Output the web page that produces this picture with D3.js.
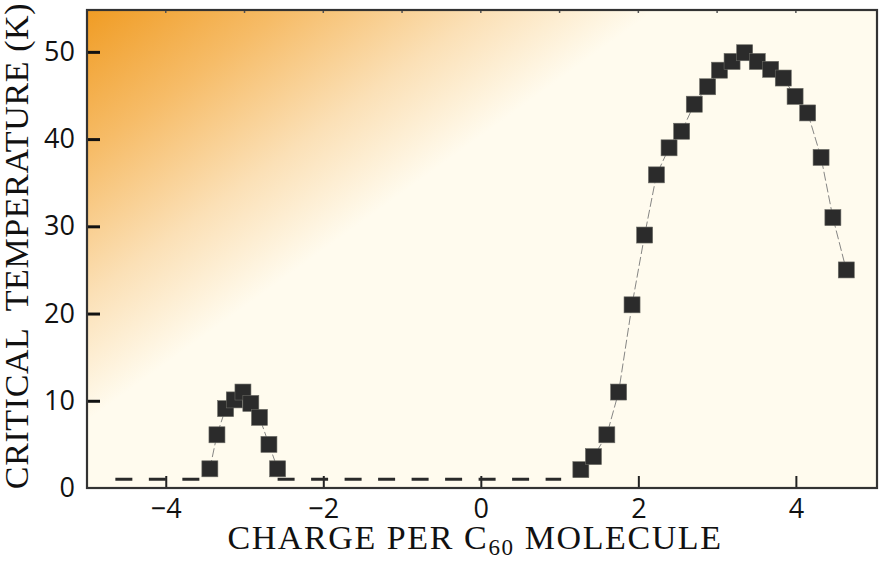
<!DOCTYPE html>
<html>
<head>
<meta charset="utf-8">
<script src="https://cdn.jsdelivr.net/npm/d3@7"></script>
<style>
  body { margin: 0; background: #ffffff; }
  svg { display: block; }
</style>
</head>
<body>
<script>
// charge per C60 molecule vs critical temperature (K)
var holeCharge = [-3.44, -3.35, -3.24, -3.13, -3.02, -2.92, -2.81, -2.69, -2.58];
var holeTc     = [2.2, 6.1, 9.1, 10.1, 11.0, 9.7, 8.1, 5.0, 2.2];

var electronCharge = [1.27, 1.43, 1.60, 1.75, 1.92, 2.08, 2.23, 2.39, 2.55, 2.71, 2.88,
                      3.03, 3.19, 3.35, 3.51, 3.68, 3.84, 3.99, 4.15, 4.32, 4.47, 4.64];
var electronTc     = [2.1, 3.6, 6.1, 11.0, 21.0, 29.0, 35.9, 39.0, 40.9, 44.0, 46.0,
                      47.9, 48.9, 49.9, 48.9, 48.0, 47.0, 44.9, 43.0, 37.9, 31.0, 25.0];

// no superconductivity found down to ~1 K
var baselineLeft  = [[-4.64, 1], [-3.50, 1]];
var baselineRight = [[-2.58, 1], [1.02, 1]];

var xTicks = [-4, -2, 0, 2, 4];
var xMinor = [-4, -3, -2, -1, 0, 1, 2, 3, 4];
var yTicks = [0, 10, 20, 30, 40, 50];

var width = 886;
var height = 573;

var svg = d3.select("body")
  .append("svg")
  .attr("width", width)
  .attr("height", height);

var x = d3.scaleLinear().domain([-5, 5.03]).range([87, 877]);
var y = d3.scaleLinear().domain([0, 54.8]).range([488, 10]);

// background wash, orange in the top-left corner
var defs = svg.append("defs");
var grad = defs.append("linearGradient")
  .attr("id", "wash")
  .attr("gradientUnits", "userSpaceOnUse")
  .attr("x1", x(-5)).attr("y1", y(54.8))
  .attr("x2", x(-5) + 195).attr("y2", y(54.8) + 270);
grad.append("stop").attr("offset", 0).attr("stop-color", "#f09c24");
grad.append("stop").attr("offset", 0.35).attr("stop-color", "#f6bc68");
grad.append("stop").attr("offset", 0.7).attr("stop-color", "#fbe0b6");
grad.append("stop").attr("offset", 1).attr("stop-color", "#fffbee");

svg.append("rect")
  .attr("x", x(-5)).attr("y", y(54.8))
  .attr("width", x(5.03) - x(-5))
  .attr("height", y(0) - y(54.8))
  .attr("fill", "url(#wash)");

// top minor ticks
svg.selectAll(".minor")
  .data(xMinor)
  .enter()
  .append("line")
  .attr("x1", d => x(d)).attr("x2", d => x(d))
  .attr("y1", y(54.8)).attr("y2", y(54.8) + 3)
  .attr("stroke", "#555")
  .attr("stroke-width", 1.5);

// axes, ticks pointing inward
var yAxis = svg.append("g")
  .attr("transform", "translate(" + x(-5) + ",0)")
  .call(d3.axisLeft(y).tickValues(yTicks).tickSize(-13).tickPadding(12).tickFormat(d3.format("d")));
yAxis.select(".domain").remove();
yAxis.selectAll(".tick line").attr("stroke", "#111").attr("stroke-width", 3);
yAxis.selectAll(".tick").filter(d => d === 0).select("line").remove();
yAxis.selectAll("text")
  .attr("font-family", "'Open Sans', 'Noto Sans', sans-serif")
  .attr("font-size", 27)
  .attr("fill", "#111");

var xAxis = svg.append("g")
  .attr("transform", "translate(0," + y(0) + ")")
  .call(d3.axisBottom(x).tickValues(xTicks).tickSize(-12).tickPadding(11)
    .tickFormat(d => d < 0 ? "\u2212" + Math.abs(d) : d));
xAxis.select(".domain").remove();
xAxis.selectAll(".tick line").attr("stroke", "#222").attr("stroke-width", 2);
xAxis.selectAll("text")
  .attr("font-family", "'Open Sans', 'Noto Sans', sans-serif")
  .attr("font-size", 27)
  .attr("fill", "#111");

// frame
svg.append("rect")
  .attr("x", x(-5)).attr("y", y(54.8))
  .attr("width", x(5.03) - x(-5))
  .attr("height", y(0) - y(54.8))
  .attr("fill", "none")
  .attr("stroke", "#333")
  .attr("stroke-width", 2.2);

var line = d3.line().x(d => x(d[0])).y(d => y(d[1]));

// dashed baseline at 1 K
svg.selectAll(".base")
  .data([baselineLeft, baselineRight])
  .enter()
  .append("path")
  .attr("d", line)
  .attr("fill", "none")
  .attr("stroke", "#2a2a2a")
  .attr("stroke-width", 3)
  .attr("stroke-dasharray", "17,16.5");

var holePts = holeCharge.map((c, i) => [c, holeTc[i]]);
var electronPts = electronCharge.map((c, i) => [c, electronTc[i]]);

// thin connecting lines
svg.selectAll(".conn")
  .data([holePts, electronPts])
  .enter()
  .append("path")
  .attr("d", line)
  .attr("fill", "none")
  .attr("stroke", "#777")
  .attr("stroke-width", 0.9)
  .attr("stroke-dasharray", "9,3");

// square markers
var s = 16;
svg.selectAll(".pt")
  .data(holePts.concat(electronPts))
  .enter()
  .append("rect")
  .attr("x", d => x(d[0]) - s / 2)
  .attr("y", d => y(d[1]) - s / 2)
  .attr("width", s)
  .attr("height", s)
  .attr("fill", "#2b2b2b")
  .attr("stroke", "#6a6a64")
  .attr("stroke-width", 0.6);

// axis titles
var xTitle = svg.append("text")
  .attr("x", 475)
  .attr("y", 549)
  .attr("text-anchor", "middle")
  .attr("font-family", "'Liberation Serif', 'DejaVu Serif', serif")
  .attr("font-size", 34)
  .attr("letter-spacing", 1.6)
  .attr("fill", "#111");
xTitle.append("tspan").text("CHARGE PER C");
xTitle.append("tspan").attr("font-size", 23).attr("dy", 6).text("60");
xTitle.append("tspan").attr("dy", -6).text(" MOLECULE");

svg.append("text")
  .attr("transform", "translate(28,246) rotate(-90)")
  .attr("text-anchor", "middle")
  .attr("font-family", "'Liberation Serif', 'DejaVu Serif', serif")
  .attr("font-size", 34)
  .attr("letter-spacing", 0.6)
  .attr("fill", "#111")
  .attr("xml:space", "preserve")
  .style("white-space", "pre")
  .text("CRITICAL  TEMPERATURE (K)");
</script>
</body>
</html>
